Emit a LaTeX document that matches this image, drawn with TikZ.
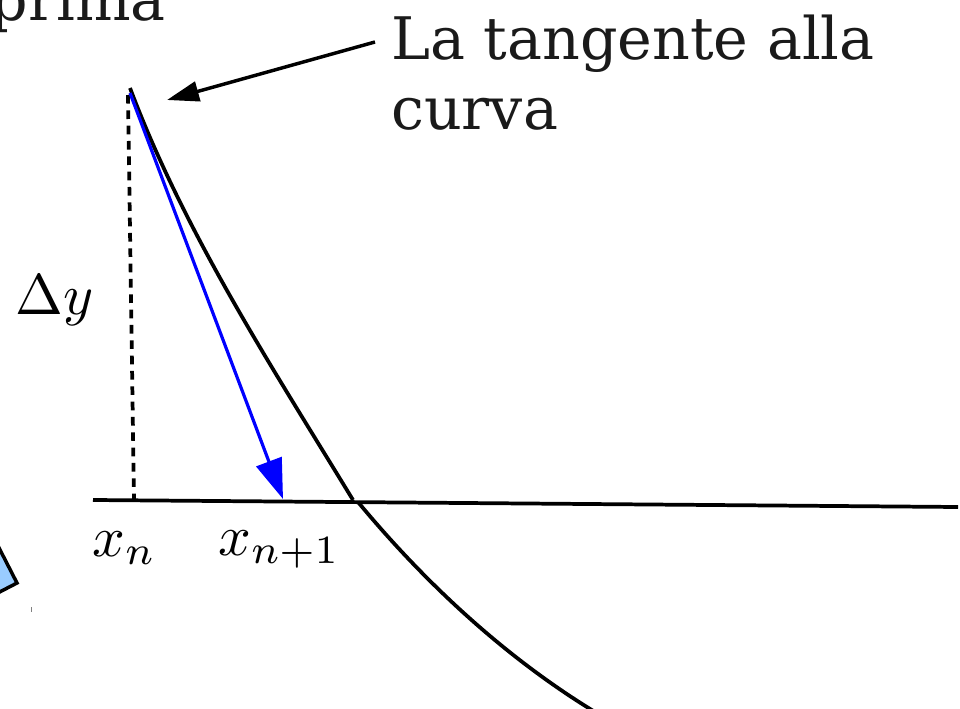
\documentclass[tikz,border=0pt]{standalone}
\usepackage[no-math]{fontspec}
\setmainfont{DejaVu Serif}
\usepackage{graphicx}
\usetikzlibrary{arrows.meta}
\definecolor{lightblue}{HTML}{99CCFF}
\definecolor{txt}{HTML}{1A1A1A}
\begin{document}
\begin{tikzpicture}[x=0.75pt,y=-0.75pt,
  curveline/.style={line width=2.8pt,black},
  axisline/.style={line width=2.8pt,black},
  dropline/.style={line width=2.8pt,black,dash pattern=on 6.5pt off 5pt},
  tanarrow/.style={line width=2.4pt,blue,-{Triangle[length=30pt,width=20pt]}},
  labarrow/.style={line width=2.6pt,black,-{Triangle[length=24pt,width=15pt]}},
  bigtext/.style={text=txt,font=\fontsize{44}{52.5}\selectfont,inner sep=0pt,align=left},
  mathlab/.style={text=black,inner sep=0pt}]
\useasboundingbox (0,0) rectangle (960,709);
\clip (0,0) rectangle (960,709);
% partially visible shape at left
\filldraw[fill=lightblue,draw=black,line width=2.6pt] (-5,540) -- (17,583) -- (-10,597) -- (-30,560) -- cycle;
\draw[gray,line width=0.6pt] (31,607) -- (31,612);
% coordinates
\coordinate (ctop) at (130,88);
\coordinate (cross) at (353,500);
\coordinate (cbelow) at (358,502);
\coordinate (cend) at (600,715);
\coordinate (axL) at (93,500);
\coordinate (axR) at (958,507);
\coordinate (dtop) at (128,95);
\coordinate (dbot) at (134,500);
\coordinate (ttop) at (130,93);
\coordinate (xnext) at (283,499);
\coordinate (lstart) at (375,42);
\coordinate (ltip) at (167,100);
% axis
\draw[axisline] (axL) -- (axR);
% curve
\draw[curveline] (ctop) .. controls (185,234) and (272,367) .. (cross);
\draw[curveline] (cbelow) .. controls (426,584) and (508,660) .. (cend);
% vertical dotted line
\draw[dropline] (dtop) -- (dbot);
% tangent
\draw[tanarrow] (ttop) -- (xnext);
% label arrow
\draw[labarrow] (lstart) -- (ltip);
% texts
\node[bigtext,anchor=base west] (lab) at (391,130) {La tangente alla\\curva};
\node[bigtext,anchor=base east] (prima) at (166,21) {prima};
\node[mathlab,anchor=base west] (dy) at (15,315) {\scalebox{4.3}{$\Delta y$}};
\node[mathlab,anchor=base west] (xn) at (92,556) {\scalebox{4.3}{$x_n$}};
\node[mathlab,anchor=base west] (xn1) at (218,555) {\scalebox{4.3}{$x_{n+1}$}};
\end{tikzpicture}
\end{document}
